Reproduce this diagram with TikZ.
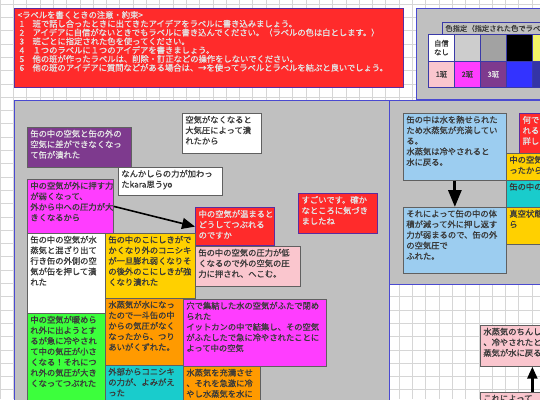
\documentclass[tikz,border=0pt]{standalone}
\usepackage{fontspec}
\newfontfamily\jp[FakeBold=0.9]{Noto Sans CJK JP}
\usetikzlibrary{arrows.meta}
\definecolor{panelgray}{HTML}{C0C0C0}
\definecolor{gridc}{HTML}{D6D6D6}
\definecolor{panelblue}{HTML}{4A4AD0}
\definecolor{qred}{HTML}{FF2B2B}
\definecolor{qborder}{HTML}{5B2C9F}
\definecolor{qtext}{HTML}{E4E4E4}
\definecolor{purp}{HTML}{7E3A8E}
\definecolor{mag}{HTML}{FF3DFF}
\definecolor{yel}{HTML}{FFD000}
\definecolor{ora}{HTML}{FF9A00}
\definecolor{grn}{HTML}{3CFF3C}
\definecolor{cya}{HTML}{19CCCC}
\definecolor{pnk}{HTML}{FAC6CE}
\definecolor{lblue}{HTML}{9CCDF0}
\definecolor{txtc}{HTML}{3A3A3A}
\definecolor{bordc}{HTML}{606060}
\definecolor{cellb}{HTML}{3A3AA8}
\definecolor{cgrayl}{HTML}{CDCDCD}
\definecolor{cgrayd}{HTML}{A2A2A2}
\definecolor{cyel}{HTML}{F2F266}
\definecolor{cblue}{HTML}{3333FF}
\definecolor{cnavy}{HTML}{3434A6}
\newcommand\labtext[3]{\parbox[c][#2pt][t]{#1pt}{\raggedright\leftskip=3pt\relax\vspace*{2.5pt}#3}}

\begin{document}
\begin{tikzpicture}[x=1pt,y=-1pt,
  lab/.style={draw=bordc,line width=0.7pt,inner sep=0pt,anchor=north west,text=txtc,font=\jp\fontsize{8.3}{10.6}\selectfont},
  qlab/.style={lab,draw=qborder,line width=1.2pt,fill=qred,text=qtext},
  cell/.style={draw=cellb,line width=0.8pt,inner sep=0pt,anchor=north west,minimum width=26pt,minimum height=26.5pt,text=txtc,font=\jp\fontsize{7.3}{9}\selectfont,align=center},
  panel/.style={draw=panelblue,line width=1pt,fill=panelgray},
  arr/.style={line width=1.6pt,-{Triangle[length=13pt,width=11pt]}}]
\useasboundingbox (0,0) rectangle (540,399);
\clip (0,0) rectangle (540,399);
\fill[white] (0,0) rectangle (540,399);
\foreach \g in {0,13.3,...,540} \draw[gridc,line width=0.5pt] (\g,0) -- (\g,399);
\foreach \g in {4,17.3,...,399} \draw[gridc,line width=0.5pt] (0,\g) -- (540,\g);

\draw[panel] (14,100) rectangle (389,405);
\draw[panel] (389,100) rectangle (545,284);
\draw[panel] (416,8) rectangle (545,99);

\node[qlab,font=\jp\fontsize{8.3}{8.8}\selectfont] (rules) at (14,8) {\labtext{389}{79}{%
<ラベルを書くときの注意・約束>\\
\makebox[15pt][l]{\hspace{2pt}1}班で話し合ったときに出てきたアイデアをラベルに書き込みましょう。\\
\makebox[15pt][l]{\hspace{2pt}2}アイデアに自信がないときでもラベルに書き込んでください。（ラベルの色は白とします。）\\
\makebox[15pt][l]{\hspace{2pt}3}班ごとに指定された色を使ってください。\\
\makebox[15pt][l]{\hspace{2pt}4}１つのラベルに１つのアイデアを書きましょう。\\
\makebox[15pt][l]{\hspace{2pt}5}他の班が作ったラベルは、削除・訂正などの操作をしないでください。\\
\makebox[15pt][l]{\hspace{2pt}6}他の班のアイデアに質問などがある場合は、→を使ってラベルとラベルを結ぶと良いでしょう。}};

\node[cell,fill=panelgray,minimum width=120pt,minimum height=12pt,text width=114pt,align=left] (colhead) at (442,22) {色指定（指定された色でラベルを書く）};
\node[cell,fill=white] (c11) at (428,34) {自信\\なし};
\node[cell,fill=cgrayl] (c12) at (454,34) {};
\node[cell,fill=cgrayd] (c13) at (480,34) {};
\node[cell,fill=black] (c14) at (506,34) {};
\node[cell,fill=cyel] (c15) at (532,34) {};
\node[cell,fill=pnk] (c21) at (428,60.5) {1班};
\node[cell,fill=mag] (c22) at (454,60.5) {2班};
\node[cell,fill=purp,text=qtext] (c23) at (480,60.5) {3班};
\node[cell,fill=cblue] (c24) at (506,60.5) {};
\node[cell,fill=cnavy] (c25) at (532,60.5) {};

\node[lab,fill=purp,text=qtext] (sahen) at (27,127) {\labtext{104}{40}{缶の中の空気と缶の外の\\空気に差ができなくなっ\\て缶が潰れた}};
\node[lab,fill=white] (taiki) at (182,113) {\labtext{79}{40}{空気がなくなると\\大気圧によって潰\\れたから}};
\node[lab,fill=white] (nanka) at (118,167) {\labtext{104}{28}{なんかしらの力が加わっ\\たkara思うyo}};
\node[lab,fill=mag] (osu) at (27,179) {\labtext{86}{54}{中の空気が外に押す力\\が弱くなって、\\外から中への圧力が大\\きくなるから}};
\node[qlab] (doushite) at (195,207) {\labtext{79}{38}{中の空気が温まると\\どうしてつぶれる\\のですか}};
\node[qlab] (sugoi) at (298,193) {\labtext{79}{40}{すごいです。確か\\なところに気づき\\ましたね}};
\node[lab,fill=white] (mazari) at (27,233) {\labtext{78}{80}{缶の中の空気が水\\蒸気と混ざり出て\\行き缶の外側の空\\気が缶を押して潰\\れた}};
\node[lab,fill=yel] (konishiki) at (105,233) {\labtext{90}{65}{缶の中のこにしきがで\\かくなり外のコニシキ\\が一旦膨れ弱くなりそ\\の後外のこにしきが強\\くなり潰れた}};
\node[lab,fill=pnk] (atsuryoku) at (195,246) {\labtext{105}{40}{缶の中の空気の圧力が低\\くなるので外の空気の圧\\力に押され、へこむ。}};
\node[lab,fill=grn] (kiatsu) at (27,313) {\labtext{78}{92}{中の空気が暖めら\\れ外に出ようとす\\るが急に冷やされ\\て中の気圧が小さ\\くなる！それにつ\\れ外の気圧が大き\\くなってつぶれた}};
\node[lab,fill=ora] (tsuriai) at (105,298) {\labtext{78}{67}{水蒸気が水になっ\\たので一斗缶の中\\からの気圧がなく\\なったから、つり\\あいがくずれた。}};
\node[lab,fill=cya] (gaibu) at (105,365) {\labtext{78}{40}{外部からコニシキ\\の力が、よみがえ\\った}};
\node[lab,fill=mag] (ketsugou) at (183,299) {\labtext{143}{67}{穴で集結した水の空気がふたで閉め\\られた\\イットカンの中で結集し、その空気\\がふたしたで急に冷やされたことに\\よって中の空気}};
\node[lab,fill=ora] (juuman) at (183,366) {\labtext{77}{40}{水蒸気を充満させ\\、それを急激に冷\\やし水蒸気を水に}};

\node[lab,fill=lblue] (netsu) at (403,113) {\labtext{103}{67}{缶の中は水を熱せられた\\ため水蒸気が充満してい\\る。\\水蒸気は冷やされると\\水に戻る。}};
\node[lab,fill=lblue] (taiseki) at (403,207) {\labtext{103}{66}{それによって缶の中の体\\積が減って外に押し返す\\力が弱まるので、缶の外\\の空気圧で\\ふれた。}};
\node[qlab] (nande) at (519,113) {\labtext{79}{40}{何でつぶ\\れるの\\詳しく}};
\node[lab,fill=yel] (heru) at (506,153) {\labtext{60}{27}{中の空気が減\\ったから}};
\node[lab,fill=cya] (kannaka) at (506,180) {\labtext{60}{27}{缶の中の}};
\node[lab,fill=yel] (shinkuu) at (506,207) {\labtext{60}{37}{真空状態だか\\ら}};

\node[lab,fill=pnk] (chinshuku) at (480,325) {\labtext{104}{41}{水蒸気のちんしゅく\\、冷やされたとき水\\蒸気が水に戻る}};
\node[lab,fill=pnk] (kore) at (480,392) {\labtext{104}{40}{これによって}};

\draw[arr] (osu.east) -- (doushite.west);
\draw[line width=3pt,-{Triangle[length=17pt,width=13pt]}] (netsu.south) -- (taiseki.north);
\draw[line width=2.5pt,-{Triangle[length=12pt,width=10pt]}] (kore.north) -- (chinshuku.south);
\end{tikzpicture}
\end{document}
